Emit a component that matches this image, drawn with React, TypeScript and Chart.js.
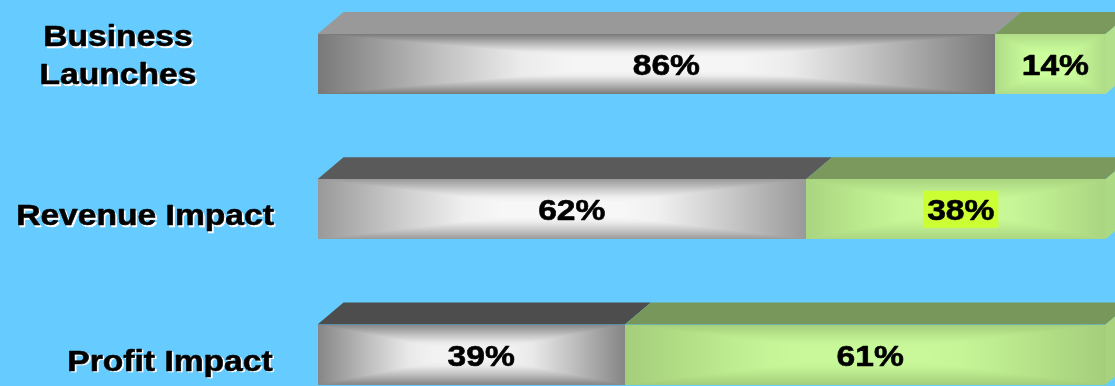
import React, { useEffect, useRef } from "react";
import { Chart, registerables } from "chart.js";

Chart.register(...registerables);

// ---- data ----
const categories = ["Business Launches", "Revenue Impact", "Profit Impact"];
const categoryLines = [["Business", "Launches"], ["Revenue Impact"], ["Profit Impact"]];
const grayValues = [86, 62, 39];
const greenValues = [14, 38, 61];

// ---- styles ----
const BG = "#66CCFF";
const grayTop = ["#999999", "#5a5a5a", "#4d4d4d"];
const grayEdge = ["#797979", "#999999", "#868686"];
const grayCenter = ["#f5f5f5", "#f7f7f7", "#f2f2f2"];
const greenTop = ["#7b995c", "#7b995c", "#78975a"];
const greenEdge = ["#afdb87", "#aad581", "#a5ce7b"];
const greenCenter = ["#ccff9c", "#c8f898", "#c8f899"];
const greenSide = ["#b2df8a", "#acd983", "#a8d27e"];
const labelCenterX = [118, 145, 170];
const labelDy = [-9.5, 5.5, 5.5];
const valueDx = [10, 5];
const greenHighlight = [null, "#CCFF33", null];
const DX = 26;
const DY = 22;
const FONT_SIZE = 30;
const HSCALE = 1.12;
const FONT = `bold ${FONT_SIZE}px "Liberation Sans", Arial, sans-serif`;
const PROFILE = [
  [0, 0],
  [0.35, 0.56],
  [0.6, 0.92],
  [0.75, 1],
  [1, 1],
];

function hexToRgb(h: string) {
  const v = parseInt(h.slice(1), 16);
  return [(v >> 16) & 255, (v >> 8) & 255, v & 255];
}

function profile(t: number) {
  for (let i = 1; i < PROFILE.length; i++) {
    const [a, fa] = PROFILE[i - 1];
    const [b, fb] = PROFILE[i];
    if (t <= b) return fa + ((t - a) / (b - a)) * (fb - fa);
  }
  return 1;
}

function pathGradientImage(w: number, h: number, edge: string, center: string) {
  const W = Math.max(1, Math.round(w));
  const H = Math.max(1, Math.round(h));
  const c = document.createElement("canvas");
  c.width = W;
  c.height = H;
  const cctx = c.getContext("2d") as CanvasRenderingContext2D;
  const img = cctx.createImageData(W, H);
  const E = hexToRgb(edge), C = hexToRgb(center);
  for (let py = 0; py < H; py++) {
    const ty = Math.min(py + 0.5, H - py - 0.5) / (H / 2);
    for (let px = 0; px < W; px++) {
      const tx = Math.min(px + 0.5, W - px - 0.5) / (W / 2);
      const f = profile(Math.min(tx, ty));
      const o = (py * W + px) * 4;
      img.data[o] = E[0] + (C[0] - E[0]) * f;
      img.data[o + 1] = E[1] + (C[1] - E[1]) * f;
      img.data[o + 2] = E[2] + (C[2] - E[2]) * f;
      img.data[o + 3] = 255;
    }
  }
  cctx.putImageData(img, 0, 0);
  return c;
}

function drawText(ctx: CanvasRenderingContext2D, text: string, cx: number, capCenterY: number, shadow: boolean) {
  ctx.save();
  ctx.translate(cx, capCenterY + FONT_SIZE * 0.358);
  ctx.scale(HSCALE, 1);
  ctx.font = FONT;
  ctx.textAlign = "center";
  ctx.textBaseline = "alphabetic";
  ctx.lineJoin = "round";
  if (shadow) {
    ctx.fillStyle = "#ffffff";
    ctx.strokeStyle = "#ffffff";
    ctx.lineWidth = 0.6;
    ctx.fillText(text, 1.6 / HSCALE, 1.6);
    ctx.strokeText(text, 1.6 / HSCALE, 1.6);
  }
  ctx.fillStyle = "#000000";
  ctx.strokeStyle = "#000000";
  ctx.lineWidth = 0.6;
  ctx.fillText(text, 0, 0);
  ctx.strokeText(text, 0, 0);
  ctx.restore();
}

function textWidth(ctx: CanvasRenderingContext2D, text: string) {
  ctx.save();
  ctx.font = FONT;
  const w = ctx.measureText(text).width * HSCALE;
  ctx.restore();
  return w;
}

const bars3d = {
  id: "bars3d",
  beforeDraw(chart: any) {
    const ctx = chart.ctx;
    ctx.save();
    ctx.fillStyle = BG;
    ctx.fillRect(0, 0, chart.width, chart.height);
    ctx.restore();
  },
  afterDatasetsDraw(chart: any) {
    const ctx: CanvasRenderingContext2D = chart.ctx;
    const metas = [chart.getDatasetMeta(0), chart.getDatasetMeta(1)];
    const values = [grayValues, greenValues];
    ctx.save();
    for (let i = 0; i < categories.length; i++) {
      const segs = metas.map((m: any) => {
        const p = m.data[i].getProps(["x", "y", "base", "height"], true);
        return {
          x0: Math.min(p.x, p.base),
          x1: Math.max(p.x, p.base),
          yt: p.y - p.height / 2,
          yb: p.y + p.height / 2,
          y: p.y,
        };
      });
      const tops = [grayTop[i], greenTop[i]];
      const edges = [grayEdge[i], greenEdge[i]];
      const centers = [grayCenter[i], greenCenter[i]];
      segs.forEach((s: any, k: number) => {
        // top face
        ctx.beginPath();
        ctx.moveTo(s.x0, s.yt);
        ctx.lineTo(s.x1, s.yt);
        ctx.lineTo(s.x1 + DX, s.yt - DY);
        ctx.lineTo(s.x0 + DX, s.yt - DY);
        ctx.closePath();
        ctx.fillStyle = tops[k];
        ctx.fill();
        // front face with rectangular "from centre" gradient
        const img = pathGradientImage(s.x1 - s.x0, s.yb - s.yt, edges[k], centers[k]);
        ctx.drawImage(img, s.x0, s.yt, s.x1 - s.x0, s.yb - s.yt);
      });
      // right side face
      const last = segs[segs.length - 1];
      ctx.beginPath();
      ctx.moveTo(last.x1, last.yt);
      ctx.lineTo(last.x1 + DX, last.yt - DY);
      ctx.lineTo(last.x1 + DX, last.yb - DY);
      ctx.lineTo(last.x1, last.yb);
      ctx.closePath();
      ctx.fillStyle = greenSide[i];
      ctx.fill();

      // value labels
      segs.forEach((s: any, k: number) => {
        const txt = `${values[k][i]}%`;
        const cx = (s.x0 + s.x1) / 2 + valueDx[k];
        if (k === 1 && greenHighlight[i]) {
          const w = textWidth(ctx, txt) + 8;
          ctx.fillStyle = greenHighlight[i] as string;
          ctx.fillRect(cx - w / 2, s.y - 18.5, w, 37);
        }
        drawText(ctx, txt, cx, s.y + 0.5, false);
      });

      // category labels
      const lines = categoryLines[i];
      const lh = 38.3;
      const cy = segs[0].y + labelDy[i];
      lines.forEach((ln, j) => {
        const ly = cy + (j - (lines.length - 1) / 2) * lh;
        drawText(ctx, ln, labelCenterX[i], ly, true);
      });
    }
    ctx.restore();
  },
};

export default function App() {
  const ref = useRef<HTMLCanvasElement | null>(null);
  useEffect(() => {
    if (!ref.current) return;
    const chart = new Chart(ref.current, {
      type: "bar",
      data: {
        labels: categories,
        datasets: [
          { label: "No", data: grayValues, backgroundColor: "rgba(0,0,0,0)", barThickness: 60 },
          { label: "Yes", data: greenValues, backgroundColor: "rgba(0,0,0,0)", barThickness: 60 },
        ],
      },
      options: {
        indexAxis: "y",
        responsive: false,
        animation: false,
        layout: { padding: { left: 317.5, right: 9.5, top: 64, bottom: 31.5 } },
        scales: {
          x: { stacked: true, min: 0, max: 100, display: false },
          y: { stacked: true, display: false, offset: false },
        },
        plugins: { legend: { display: false }, tooltip: { enabled: false } },
      },
      plugins: [bars3d],
    } as any);
    return () => chart.destroy();
  }, []);
  return (
    <div style={{ position: "fixed", left: 0, top: 0, width: 1115, height: 386, background: BG }}>
      <canvas ref={ref} width={1115} height={386} style={{ display: "block" }} />
    </div>
  );
}
